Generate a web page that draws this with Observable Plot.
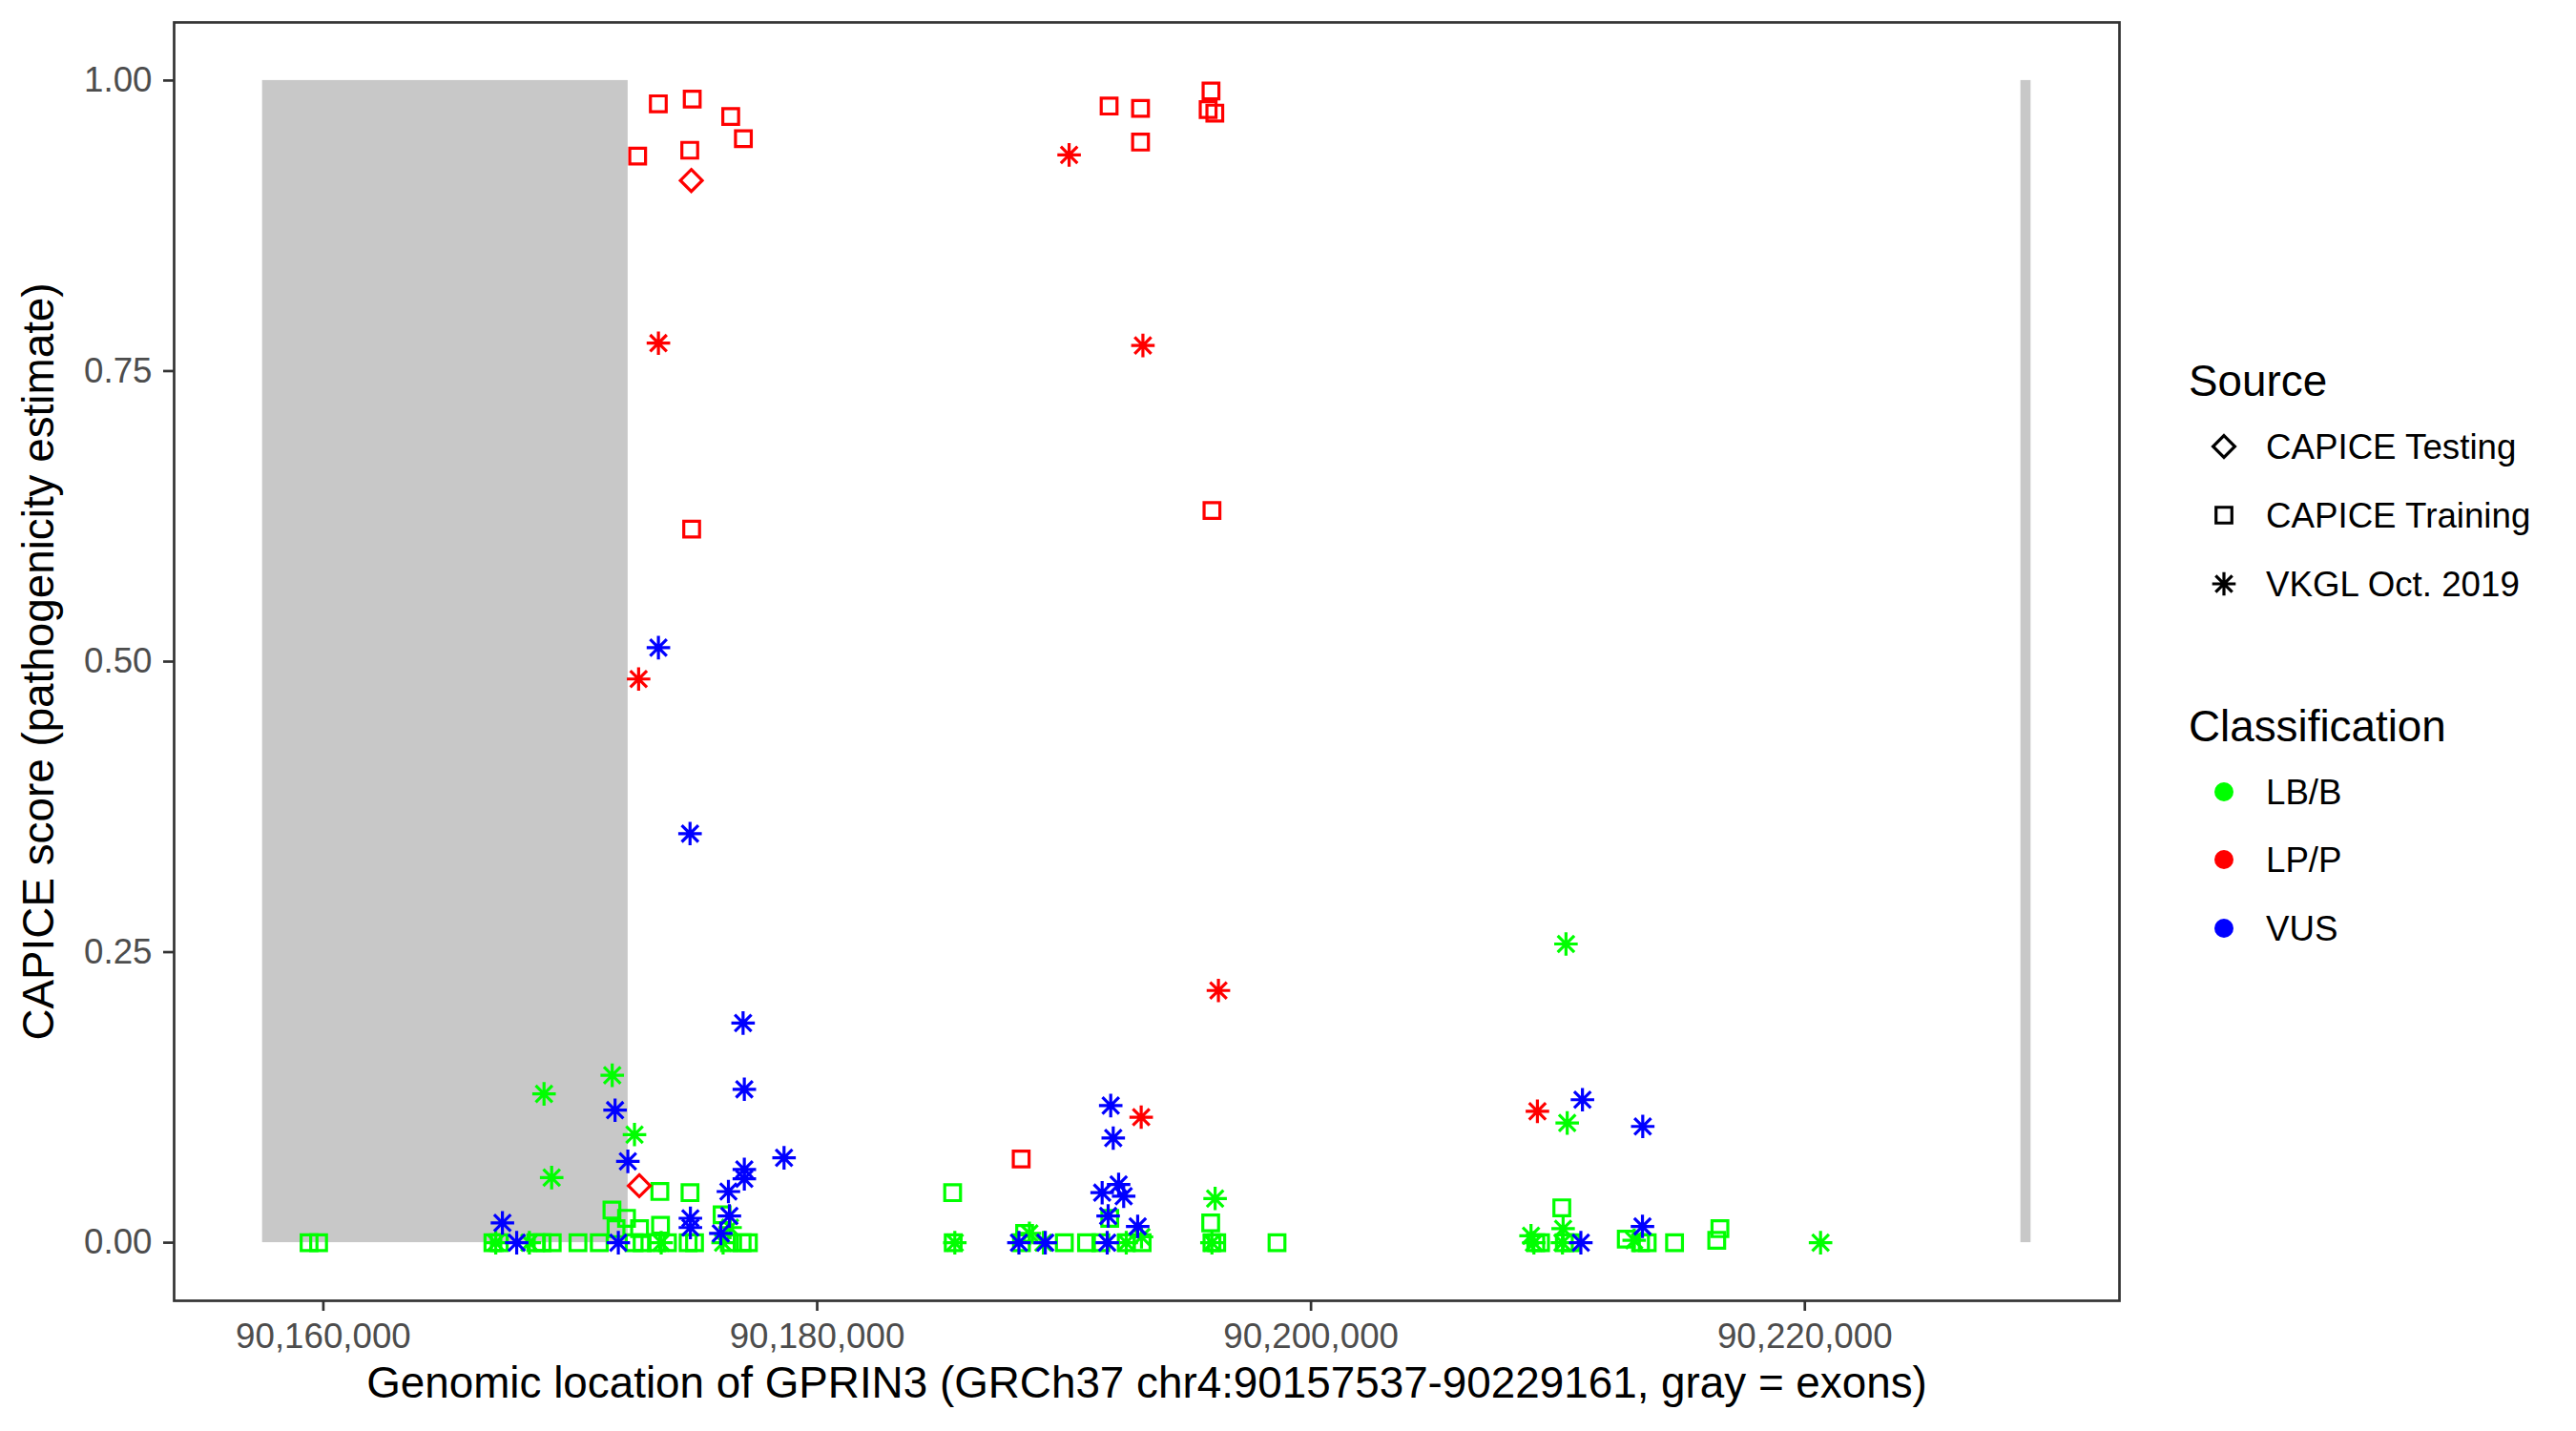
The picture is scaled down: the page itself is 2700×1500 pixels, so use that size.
<!DOCTYPE html>
<html><head><meta charset="utf-8">
<script src="https://cdn.jsdelivr.net/npm/d3@7"></script>
<script src="https://cdn.jsdelivr.net/npm/@observablehq/plot@0.6"></script>
<style>
html,body{margin:0;padding:0;background:#fff;}
#wrap{position:relative;width:2700px;height:1500px;font-family:"Liberation Sans",Arial,Helvetica,sans-serif;}
#chart{position:absolute;left:0;top:0;}
#legend{position:absolute;left:2240px;top:0;}
</style></head>
<body><div id="wrap"><div id="chart"></div><svg id="legend" width="460" height="1500"></svg></div>
<script>
// ---- data ----
const geneStart = 90157537, geneEnd = 90229161;
const exonStarts = [90157537, 90228750];
const exonEnds   = [90172343, 90229161];
const classes = ["LB/B", "LP/P", "VUS"];
const classColors = ["#00FF00", "#FF0000", "#0000FF"];
const sources = ["CAPICE Testing", "CAPICE Training", "VKGL Oct. 2019"];
const xTicks = [90160000, 90180000, 90200000, 90220000];
const yTicks = [0, 0.25, 0.5, 0.75, 1];
const xTitle = "Genomic location of GPRIN3 (GRCh37 chr4:90157537-90229161, gray = exons)";
const yTitle = "CAPICE score (pathogenicity estimate)";

// [position, score]
const trainingLPP = [
  [90173566,0.980],[90174939,0.984],[90176498,0.969],[90177011,0.950],[90172729,0.935],
  [90174839,0.940],[90191823,0.978],[90193095,0.976],[90193095,0.947],[90195950,0.991],
  [90195834,0.975],[90196104,0.972],[90195989,0.630],[90174916,0.614],[90188262,0.072]
];
const trainingLBB = [
  [90159421,0],[90159807,0],[90173628,0.044],[90174850,0.043],[90171688,0.028],
  [90172278,0.021],[90172806,0.012],[90171853,0.012],[90173655,0.015],[90176150,0.024],
  [90166866,0],[90167124,0],[90168602,0],[90168860,0],[90169269,0],[90170311,0],
  [90171175,0],[90172586,0],[90172910,0],[90173489,0],[90173936,0],[90174773,0],
  [90175032,0],[90176444,0],[90176961,0],[90177215,0],
  [90185485,0.043],[90185509,0],[90188401,0.008],[90188273,0],[90190010,0],[90190908,0],
  [90191487,0],[90191849,0.021],[90192517,0],[90193161,0],[90195937,0.017],[90195989,0],
  [90196181,0],[90198623,0],
  [90210157,0.030],[90216560,0.012],[90216432,0.002],[90214723,0],[90209103,0],[90209296,0],
  [90210260,0],[90210530,0],[90212768,0.003],[90213346,0],[90213616,0]
];
const testingLPP = [[90174901,0.914],[90172795,0.049]];
const vkglLPP = [
  [90190203,0.936],[90193192,0.772],[90173570,0.774],[90172768,0.485],[90196250,0.217],
  [90193122,0.108],[90209169,0.113]
];
const vkglVUS = [
  [90173570,0.512],[90174850,0.352],[90176999,0.189],[90177049,0.132],[90171814,0.114],
  [90178658,0.073],[90172332,0.070],[90177049,0.063],[90177049,0.055],[90176405,0.044],
  [90167252,0.017],[90174865,0.021],[90174865,0.013],[90176444,0.023],[90176097,0.008],
  [90167830,0],[90171946,0],
  [90191888,0.118],[90191990,0.090],[90192208,0.050],[90191541,0.043],[90192413,0.040],
  [90191784,0.023],[90192980,0.014],[90188170,0],[90189238,0],[90191746,0],
  [90210993,0.123],[90213435,0.100],[90213424,0.014],[90210928,0]
];
const vkglLBB = [
  [90171699,0.144],[90168937,0.128],[90172601,0.093],[90169246,0.056],[90176471,0.013],
  [90168343,0],[90173682,0],[90176189,0],[90166982,0],
  [90188594,0.008],[90185574,0],[90196116,0.038],[90193134,0.005],[90192517,0],[90189161,0],
  [90195987,0],
  [90210326,0.257],[90210376,0.103],[90210210,0.012],[90208910,0.006],[90220636,0],
  [90213088,0.002],[90209027,0],[90210183,0]
];

// ---- tables ----
const rows = (arr, cls, src) => arr.map(([pos, score]) => ({pos, score, cls, src}));
const exons = exonStarts.map((s, i) => ({start: s, end: exonEnds[i]}));
const training = [...rows(trainingLBB, "LB/B", sources[1]), ...rows(trainingLPP, "LP/P", sources[1])];
const testing = rows(testingLPP, "LP/P", sources[0]);
const vkgl = [...rows(vkglLBB, "LB/B", sources[2]), ...rows(vkglVUS, "VUS", sources[2]), ...rows(vkglLPP, "LP/P", sources[2])];

// ---- symbols (ggplot shapes 0, 5, 8) ----
const symSquare = {draw(c, size) {const r = Math.sqrt(size / Math.PI) * 0.94; c.moveTo(-r, -r); c.lineTo(r, -r); c.lineTo(r, r); c.lineTo(-r, r); c.closePath();}};
const symDiamond = {draw(c, size) {const r = Math.sqrt(size / Math.PI) * 1.3; c.moveTo(0, -r); c.lineTo(r, 0); c.lineTo(0, r); c.lineTo(-r, 0); c.closePath();}};
const symAsterisk = {draw(c, size) {const r = Math.sqrt(size / Math.PI) * 1.4, d = r / Math.SQRT2;
  c.moveTo(-r, 0); c.lineTo(r, 0); c.moveTo(0, -r); c.lineTo(0, r);
  c.moveTo(-d, -d); c.lineTo(d, d); c.moveTo(-d, d); c.lineTo(d, -d);}};

const pad = (geneEnd - geneStart) * 0.05;
const font = '"Liberation Sans", Arial, Helvetica, sans-serif';
const ptSW = 3.2;
const ptR = 8.8;

const chart = Plot.plot({
  width: 2240, height: 1500,
  marginTop: 23, marginLeft: 182, marginRight: 19, marginBottom: 137,
  style: {fontFamily: font, background: "white", overflow: "visible"},
  x: {domain: [geneStart - pad, geneEnd + pad], label: null},
  y: {domain: [-0.05, 1.05], label: null},
  color: {domain: classes, range: classColors},
  marks: [
    Plot.rect(exons, {x1: "start", x2: "end", y1: 0, y2: 1, fill: "#C8C8C8"}),
    Plot.dot(training, {x: "pos", y: "score", stroke: "cls", fill: "none", symbol: symSquare, r: ptR, strokeWidth: ptSW}),
    Plot.dot(testing, {x: "pos", y: "score", stroke: "cls", fill: "none", symbol: symDiamond, r: ptR, strokeWidth: ptSW}),
    Plot.dot(vkgl, {x: "pos", y: "score", stroke: "cls", fill: "none", symbol: symAsterisk, r: ptR, strokeWidth: ptSW}),
    Plot.frame({stroke: "#333333", strokeWidth: 2.7}),
    Plot.axisX({ticks: xTicks, tickFormat: d3.format(","), tickSize: 11, tickPadding: 12, fontSize: 36.7,
      stroke: "#333333", fill: "#4D4D4D", strokeWidth: 2.7, label: null}),
    Plot.axisY({ticks: yTicks, tickFormat: d3.format(".2f"), tickSize: 11, tickPadding: 12, fontSize: 36.7,
      stroke: "#333333", fill: "#4D4D4D", strokeWidth: 2.7, label: null}),
    Plot.text([xTitle], {text: d => d, frameAnchor: "bottom", dy: 101, lineAnchor: "bottom", textAnchor: "middle", fontSize: 45.8, fill: "black"}),
    Plot.text([yTitle], {text: d => d, frameAnchor: "left", rotate: -90, dx: -127, lineAnchor: "bottom", textAnchor: "middle", fontSize: 45.8, fill: "black"})
  ]
});
document.getElementById("chart").appendChild(chart);

// ---- legend ----
const L = d3.select("#legend").style("font-family", font);
const ox = 2240;
const symX = 2331 - ox, txtX = 2375 - ox;
L.append("text").attr("x", 2294 - ox).attr("y", 415).attr("font-size", 45.8).text("Source");
const srcSyms = [symDiamond, symSquare, symAsterisk];
const srcY = [468, 540, 612];
sources.forEach((s, i) => {
  L.append("path").attr("transform", `translate(${symX},${srcY[i]})`)
    .attr("d", d3.symbol(srcSyms[i], Math.PI * ptR * ptR)())
    .attr("fill", "none").attr("stroke", "black").attr("stroke-width", ptSW);
  L.append("text").attr("x", txtX).attr("y", srcY[i] + 13).attr("font-size", 36.7).text(s);
});
L.append("text").attr("x", 2294 - ox).attr("y", 777).attr("font-size", 45.8).text("Classification");
const clsY = [830, 901, 973];
classes.forEach((c, i) => {
  L.append("circle").attr("cx", symX).attr("cy", clsY[i]).attr("r", 10).attr("fill", classColors[i]);
  L.append("text").attr("x", txtX).attr("y", clsY[i] + 13).attr("font-size", 36.7).text(c);
});
</script>
</body></html>
